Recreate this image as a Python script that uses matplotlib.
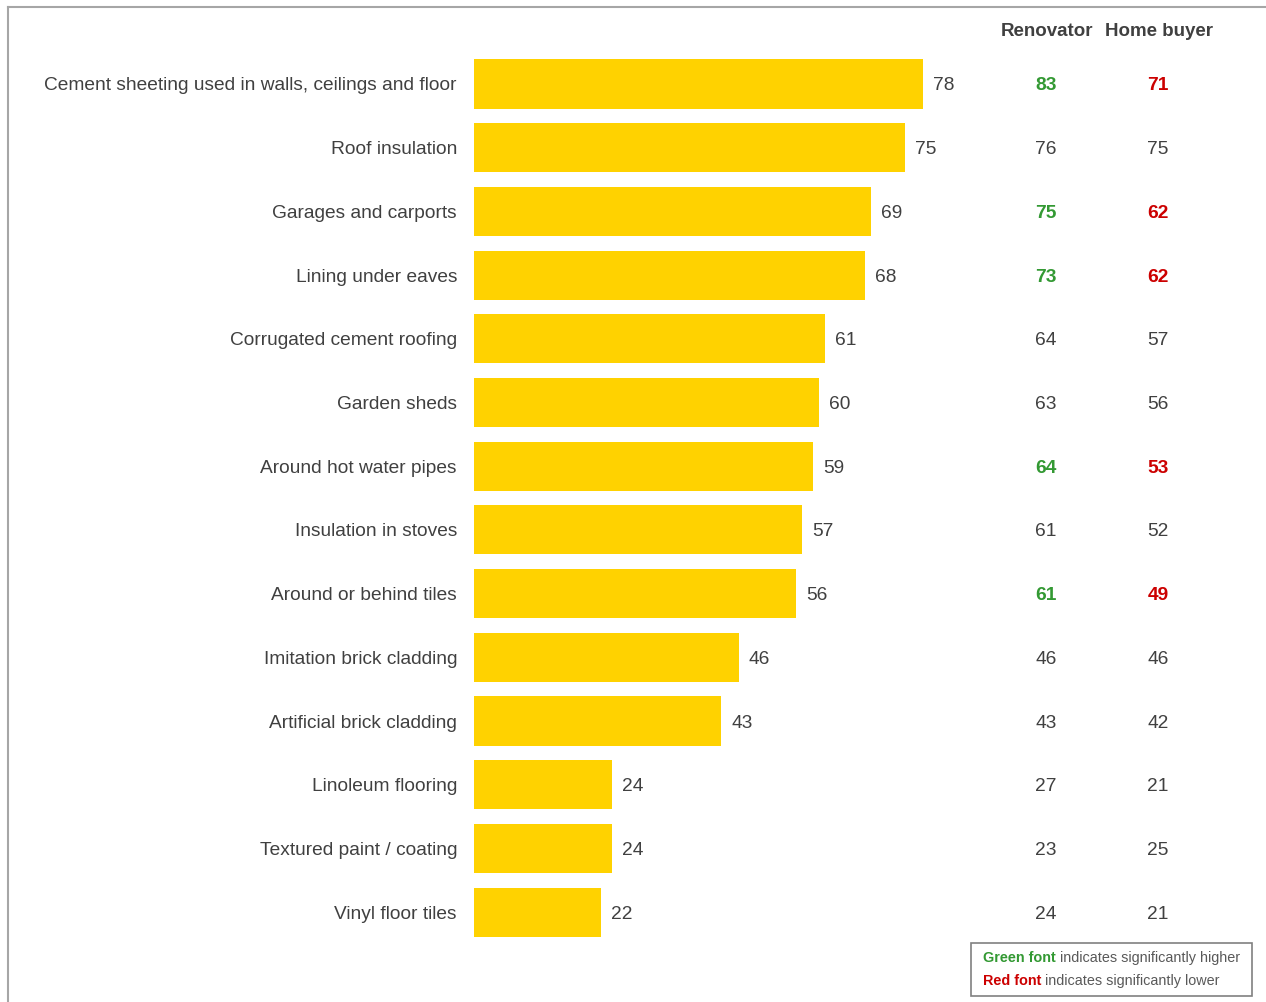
import matplotlib.pyplot as plt
from matplotlib.patches import Rectangle
from matplotlib.lines import Line2D

plt.rcParams['font.family'] = ['Liberation Sans', 'DejaVu Sans']

categories = [
    'Cement sheeting used in walls, ceilings and floor',
    'Roof insulation',
    'Garages and carports',
    'Lining under eaves',
    'Corrugated cement roofing',
    'Garden sheds',
    'Around hot water pipes',
    'Insulation in stoves',
    'Around or behind tiles',
    'Imitation brick cladding',
    'Artificial brick cladding',
    'Linoleum flooring',
    'Textured paint / coating',
    'Vinyl floor tiles',
]
total = [78, 75, 69, 68, 61, 60, 59, 57, 56, 46, 43, 24, 24, 22]
renovator = [83, 76, 75, 73, 64, 63, 64, 61, 61, 46, 43, 27, 23, 24]
home_buyer = [71, 75, 62, 62, 57, 56, 53, 52, 49, 46, 42, 21, 25, 21]
significant = [True, False, True, True, False, False, True, False, True,
               False, False, False, False, False]

yellow = '#FFD200'
text_grey = '#404040'
green = '#339933'
red = '#CC0000'
fs = 13.8

W, H = 1266, 1002
fig = plt.figure(figsize=(W / 100, H / 100), dpi=100)

# axes spans from the bar baseline to the right edge, full height
x0 = 474
ax = fig.add_axes([x0 / W, 0, (W - x0) / W, 1])
px = 5.75  # pixels per percentage point
ax.set_xlim(0, (W - x0) / px)
step = 63.7
ax.set_ylim((H - 84) / step, -84 / step)
ax.axis('off')

col_ren = (1046 - x0) / px
col_hb = (1158 - x0) / px
va = 'center_baseline'

ypos = list(range(len(categories)))
ax.barh(ypos, total, height=0.77, color=yellow)

for i, cat in enumerate(categories):
    ax.text(-17 / px, i, cat, ha='right', va=va, fontsize=fs,
            color=text_grey, clip_on=False)
    ax.text(total[i] + 10 / px, i, str(total[i]), ha='left', va=va,
            fontsize=fs, color=text_grey)
    weight = 'bold' if significant[i] else 'normal'
    ax.text(col_ren, i, str(renovator[i]), ha='center', va=va,
            fontsize=fs, fontweight=weight,
            color=green if significant[i] else text_grey)
    ax.text(col_hb, i, str(home_buyer[i]), ha='center', va=va,
            fontsize=fs, fontweight=weight,
            color=red if significant[i] else text_grey)

# column headers
hy = (29 - 84) / step
ax.text((1047 - x0) / px, hy, 'Renovator', ha='center', va=va,
        fontsize=13.5, color=text_grey, fontweight='bold')
ax.text((1159 - x0) / px, hy, 'Home buyer', ha='center', va=va,
        fontsize=13.5, color=text_grey, fontweight='bold')

# outer frame: top and left edges
fig.add_artist(Line2D([8 / W, 1], [1 - 7 / H, 1 - 7 / H], color='#A6A6A6', lw=1.5))
fig.add_artist(Line2D([8 / W, 8 / W], [0, 1 - 7 / H], color='#A6A6A6', lw=1.5))

# significance key
fig.add_artist(Rectangle((971 / W, 1 - 996 / H), 281 / W, 53 / H,
                         fill=False, edgecolor='#808080', lw=1.2))
renderer = fig.canvas.get_renderer()
for label, colour, rest, yp in [('Green font', green, 'indicates significantly higher', 962),
                                ('Red font', red, 'indicates significantly lower', 985)]:
    t = fig.text(983 / W, 1 - yp / H, label, color=colour, fontsize=10.4,
                 fontweight='bold', va='baseline')
    x_end = t.get_window_extent(renderer).x1
    fig.text((x_end + 4) / W, 1 - yp / H, rest, color='#595959',
             fontsize=10.4, va='baseline')

fig.savefig('out.png', dpi=100)
